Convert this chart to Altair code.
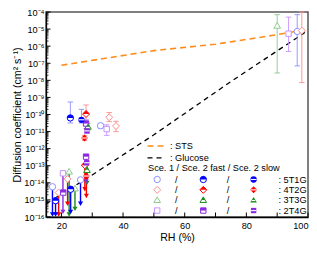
import altair as alt
import pandas as pd
import numpy as np

nan = np.nan

# ---------------- data ----------------
samples = ["5T1G", "4T2G", "3T3G", "2T4G"]
strong_colors = ["#0000ff", "#ff0000", "#1a8f1a", "#8a2be2"]
pale_colors = ["#8f8fff", "#ff8f8f", "#8ccb8c", "#c793ff"]

# Sce. 1 = open, Sce. 2 fast = half filled, Sce. 2 slow = filled
pt_sample = ["5T1G", "5T1G", "5T1G", "5T1G", "4T2G", "4T2G", "4T2G", "4T2G", "4T2G",
             "3T3G", "3T3G", "3T3G", "2T4G", "2T4G", "2T4G",
             "5T1G", "5T1G", "5T1G", "4T2G", "4T2G", "3T3G", "3T3G", "2T4G", "2T4G", "2T4G",
             "5T1G", "4T2G", "4T2G", "2T4G", "2T4G"]
pt_scen = ["S1"] * 15 + ["fast"] * 10 + ["slow"] * 5
pt_rh = [17.1, 26.2, 32.7, 96.5, 19.1, 22.0, 35.5, 37.7, 98.0, 22.5, 24.4, 90.0, 20.5, 34.7, 93.7,
         22.9, 18.1, 23.0, 28.0, 27.6, 28.6, 28.3, 28.0, 20.6, 28.0,
         26.5, 27.5, 28.1, 28.3, 28.2]
pt_d = [5.9e-15, 1.5e-14, 2.2e-11, 7.2e-6, 2.7e-15, 1.7e-14, 6.9e-11, 2.1e-11, 8.1e-6,
        4.5e-14, 4.6e-15, 1.55e-5, 3.6e-14, 1.4e-11, 5.4e-6,
        6.3e-11, 9.0e-16, 4.2e-15, 1.07e-10, 1.07e-13, 1.9e-11, 5.5e-14, 2.95e-11, 2.7e-15, 3.4e-13,
        4.9e-11, 4.2e-12, 2.5e-14, 1.1e-11, 1.5e-13]
pt_lo = [nan, nan, 1.6e-11, 7e-8, nan, nan, 3.8e-11, 1.0e-11, 7.4e-9, nan, nan, 2.7e-8, nan, 6e-12, 4.9e-7,
         3.2e-11, nan, nan, 4e-11, nan, 1.2e-11, nan, 1.5e-11, nan, nan,
         3.2e-11, 3.0e-12, nan, 8e-12, nan]
pt_hi = [nan, nan, 3.0e-11, 7e-5, nan, nan, 1.3e-10, 4.0e-11, 1e-4, nan, nan, 7e-5, nan, 2.5e-11, 5e-5,
         5.4e-10, nan, nan, 3.6e-10, nan, 3e-11, nan, 5e-11, nan, nan,
         2e-10, 6e-12, nan, 1.6e-11, nan]
pt_tip = [1.4e-16, 6e-16, nan, nan, 1.4e-16, 6e-16, nan, nan, nan, 1.4e-16, 3e-16, nan, 2e-16, nan, nan,
          nan, 1.4e-16, 2e-16, nan, 4.2e-15, nan, 1.0e-14, nan, nan, 1.2e-14,
          nan, nan, 1.7e-15, nan, 2e-14]

sts_rh = [20, 50, 70, 90, 100]
sts_d = [7.6e-8, 5.5e-7, 1.3e-6, 4.7e-6, 1.0e-5]
glu_rh = [15, 30, 50, 75, 99]
glu_d = [5.9e-16, 2.9e-14, 6.5e-12, 8.5e-9, 6.3e-6]

x_ticks = [20, 40, 60, 80, 100]
x_minor = [30, 50, 70, 90]
y_exps = list(range(-16, -3))
y_labels = ["10⁻¹⁶", "10⁻¹⁵", "10⁻¹⁴", "10⁻¹³", "10⁻¹²", "10⁻¹¹", "10⁻¹⁰",
            "10⁻⁹", "10⁻⁸", "10⁻⁷", "10⁻⁶", "10⁻⁵", "10⁻⁴"]

# ---------------- tables ----------------
pts = pd.DataFrame({"sample": pt_sample, "scen": pt_scen, "rh": pt_rh, "d": pt_d,
                    "lo": pt_lo, "hi": pt_hi, "tip": pt_tip})
lines = pd.DataFrame({"rh": sts_rh + glu_rh, "d": sts_d + glu_d,
                      "kind": ["STS"] * len(sts_rh) + ["Glucose"] * len(glu_rh)})
ymaj = pd.DataFrame({"v": [10.0 ** e for e in y_exps]})
ymin = pd.DataFrame({"v": [m * 10.0 ** e for e in y_exps[:-1] for m in range(2, 10)]})
xmaj = pd.DataFrame({"v": x_ticks + x_minor})
leg = pd.DataFrame({"sample": samples, "row": list(range(len(samples)))})

FONT = "Liberation Sans"
W, H = 262, 205
MS = 40

xs = alt.Scale(domain=[15, 100], nice=False, zero=False)
ys = alt.Scale(type="log", domain=[1e-16, 1e-4], nice=False)

full_shapes = ["circle",
               "M0,-1.1L1.1,0L0,1.1L-1.1,0Z",
               "M0,-1.05L1.05,0.75L-1.05,0.75Z",
               "M-0.85,-0.85L0.85,-0.85L0.85,0.85L-0.85,0.85Z"]
half_shapes = ["M-1,0A1,1 0 0,1 1,0Z",
               "M-1.1,0L0,-1.1L1.1,0Z",
               "M0,-1.05L0.55,-0.1L-0.55,-0.1Z",
               "M-0.85,-0.85L0.85,-0.85L0.85,0L-0.85,0Z"]
band_shapes = ["M-0.9,0L0.9,0", "M-0.95,0L0.95,0", "M-0.55,0.1L0.55,0.1", "M-0.8,0L0.8,0"]


def shp(rng):
    return alt.Shape("sample:N", scale=alt.Scale(domain=samples, range=rng), legend=None)


def strong(ch=alt.Color):
    return ch("sample:N", scale=alt.Scale(domain=samples, range=strong_colors), legend=None)


def pale(ch=alt.Color):
    return ch("sample:N", scale=alt.Scale(domain=samples, range=pale_colors), legend=None)


def sym_layers(src, scen, x, y):
    out = []
    if scen == "S1":
        out.append(src.mark_point(filled=True, fill="white", strokeWidth=1, size=MS, opacity=1)
                   .encode(x=x, y=y, shape=shp(full_shapes), stroke=pale(alt.Stroke)))
    elif scen == "fast":
        out.append(src.mark_point(filled=True, fill="white", strokeWidth=1, size=MS, opacity=1)
                   .encode(x=x, y=y, shape=shp(full_shapes), stroke=strong(alt.Stroke)))
        out.append(src.mark_point(filled=True, size=MS, opacity=1, strokeWidth=0)
                   .encode(x=x, y=y, shape=shp(half_shapes), color=strong()))
    else:
        out.append(src.mark_point(filled=True, size=MS, opacity=1)
                   .encode(x=x, y=y, shape=shp(full_shapes), color=strong()))
        out.append(src.mark_point(filled=False, size=MS, opacity=1, stroke="white", strokeWidth=1.1)
                   .encode(x=x, y=y, shape=shp(band_shapes)))
    return out


layers = []

# tick marks (inward)
layers.append(alt.Chart(ymaj).mark_rule(color="black", strokeWidth=1).encode(
    y=alt.Y("v:Q", scale=ys), x=alt.value(0), x2=alt.value(4.5)))
layers.append(alt.Chart(ymin).mark_rule(color="black", strokeWidth=0.8).encode(
    y=alt.Y("v:Q", scale=ys), x=alt.value(0), x2=alt.value(2.5)))
layers.append(alt.Chart(xmaj).mark_rule(color="black", strokeWidth=1).encode(
    x=alt.X("v:Q", scale=xs), y=alt.value(H), y2=alt.value(H - 4.5)))

# reference lines
lc = alt.Chart(lines)
layers.append(lc.transform_filter("datum.kind == 'STS'").mark_line(
    color="#ff8c1a", strokeDash=[6, 4], strokeWidth=1.6).encode(
    x=alt.X("rh:Q", scale=xs, axis=alt.Axis(values=x_ticks, ticks=False, grid=False, title="RH (%)",
                                            labelPadding=4, titlePadding=2)),
    y=alt.Y("d:Q", scale=ys, axis=alt.Axis(
        values=[10.0 ** e for e in y_exps], ticks=False, grid=False,
        title="Diffusion coefficient (cm² s⁻¹)", labelPadding=2, titlePadding=1,
        labelExpr="[" + ",".join("'" + s + "'" for s in y_labels) + "][round(log(datum.value)/LN10)+16]"))))
layers.append(lc.transform_filter("datum.kind == 'Glucose'").mark_line(
    color="black", strokeDash=[5, 4], strokeWidth=1.3).encode(
    x=alt.X("rh:Q", scale=xs), y=alt.Y("d:Q", scale=ys)))

base = alt.Chart(pts)
# error bars (pale)
eb = base.transform_filter("isValid(datum.lo)")
layers.append(eb.mark_rule(strokeWidth=1, opacity=0.9).encode(
    x=alt.X("rh:Q", scale=xs), y=alt.Y("lo:Q", scale=ys), y2="hi:Q", color=pale()))
for f in ["lo", "hi"]:
    layers.append(eb.mark_point(shape="M-1,0L1,0", filled=False, strokeWidth=1, size=30, opacity=0.9).encode(
        x=alt.X("rh:Q", scale=xs), y=alt.Y(f + ":Q", scale=ys), stroke=pale(alt.Stroke)))
# arrows (upper limits)
ar = base.transform_filter("isValid(datum.tip)")
layers.append(ar.mark_rule(strokeWidth=1.4).encode(
    x=alt.X("rh:Q", scale=xs), y=alt.Y("d:Q", scale=ys), y2="tip:Q", color=strong()))
layers.append(ar.mark_point(shape="triangle-down", filled=True, size=26, opacity=1).encode(
    x=alt.X("rh:Q", scale=xs), y=alt.Y("tip:Q", scale=ys), color=strong()))

# markers
for scen in ["S1", "fast", "slow"]:
    layers += sym_layers(base.transform_filter(f"datum.scen == '{scen}'"), scen,
                         alt.X("rh:Q", scale=xs), alt.Y("d:Q", scale=ys))

# ---------------- legend ----------------
LFS = 9.2
ROW0, DROW = 167.5, 10.35


def txt(s, x, y, align="left"):
    return alt.Chart(leg).transform_filter("datum.row == 0").mark_text(
        align=align, baseline="middle", fontSize=LFS, font=FONT, color="black").encode(
        x=alt.value(x), y=alt.value(y), text=alt.value(s))


layers.append(alt.Chart(leg).transform_filter("datum.row == 0").mark_rule(
    color="#ff8c1a", strokeDash=[6, 4], strokeWidth=1.6).encode(
    x=alt.value(101.5), x2=alt.value(119.5), y=alt.value(134)))
layers.append(txt(": STS", 124, 134))
layers.append(alt.Chart(leg).transform_filter("datum.row == 0").mark_rule(
    color="black", strokeDash=[5, 4], strokeWidth=1.3).encode(
    x=alt.value(101.5), x2=alt.value(119.5), y=alt.value(145.8)))
layers.append(txt(": Glucose", 124, 145.8))
layers.append(txt("Sce. 1 / Sce. 2 fast / Sce. 2 slow", 102, 156.3))

lsrc = alt.Chart(leg).transform_calculate(ly=f"{ROW0} + datum.row * {DROW}", lab="': ' + datum.sample")
ly = alt.Y("ly:Q", scale=None)
for scen, xp in [("S1", 111.2), ("fast", 157.3), ("slow", 207.6)]:
    layers += sym_layers(lsrc, scen, alt.value(xp), ly)
for xp in [130.2, 182]:
    layers.append(lsrc.mark_text(align="center", baseline="middle", fontSize=LFS, font=FONT,
                                 color="black").encode(x=alt.value(xp), y=ly, text=alt.value("/")))
layers.append(lsrc.mark_text(align="left", baseline="middle", fontSize=LFS, font=FONT,
                             color="black").encode(x=alt.value(232.5), y=ly, text="lab:N"))

chart = alt.layer(*layers).resolve_scale(
    shape="independent", color="independent", stroke="independent"
).properties(
    width=W, height=H,
    autosize=alt.AutoSizeParams(type="none"),
    padding={"left": 38, "top": 4, "right": 1, "bottom": 30},
).configure_view(stroke="#555555", strokeWidth=1.5).configure_axis(
    labelFont=FONT, titleFont=FONT, labelFontSize=9.2, titleFontSize=10.6,
    labelColor="black", titleColor="black", titleFontWeight="normal",
    domainColor="black", domainWidth=1.3
)

chart.save("out.html", embed_options={"renderer": "svg", "actions": False})
